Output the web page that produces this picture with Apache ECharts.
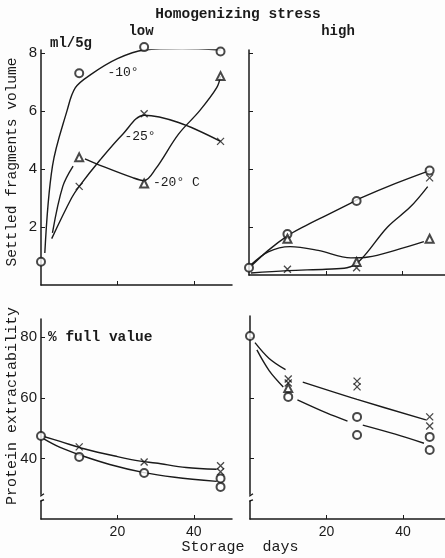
<!DOCTYPE html>
<html>
<head>
<meta charset="utf-8">
<script src="https://cdn.jsdelivr.net/npm/echarts@6/dist/echarts.min.js"></script>
<style>
  html, body { margin: 0; padding: 0; background: #fdfdfd; }
  #chart { width: 445px; height: 558px; }
</style>
</head>
<body>
<div id="chart"></div>
<script>
// storage days of the sampled points
const lowDays = [0, 10, 27, 47];
const highDays = [0, 10, 28, 47];

// settled fragments volume (ml/5g), low homogenizing stress
const lowVolM10 = [0.8, 7.3, 8.2, 8.05];
const lowVolM25 = [3.4, 5.9, 4.95];
const lowVolM20 = [4.4, 3.5, 7.2];
// fitted curves as [day, value]
const lowCurveM10 = [[1, 1.1], [3, 4.1], [6.8, 6.0], [9, 6.8], [13, 7.25], [20, 7.8], [27, 8.1], [37, 8.15], [47, 8.1]];
const lowCurveM25 = [[2.8, 1.6], [8, 3.0], [10, 3.4], [15.4, 4.3], [21.4, 5.2], [27, 5.85], [36, 5.6], [47, 4.95]];
const lowCurveM20 = [[3, 1.8], [5.7, 3.4], [8.4, 4.1], [null, null], [11.5, 4.35], [16, 4.1], [24, 3.7], [27, 3.6], [30, 4.0], [36, 5.2], [41.5, 6.0], [46, 6.8], [47, 7.2]];

// settled fragments volume, high homogenizing stress
const highVolO = [0.6, 1.76, 2.9, 3.95];
const highVolX = [0.55, 0.6, 3.7];
const highVolT = [1.6, 0.8, 1.6];
const highCurveO = [[0.5, 0.65], [5, 1.2], [10, 1.7], [14, 2.0], [20, 2.4], [26.5, 2.83], [29, 3.0], [38, 3.5], [47, 3.95]];
const highCurveT = [[0.5, 0.7], [5, 1.15], [10.7, 1.33], [18, 1.2], [26.5, 0.94], [31, 0.97], [38, 1.2], [45.5, 1.5]];
const highCurveX = [[0.5, 0.42], [10, 0.5], [20, 0.55], [25.5, 0.6], [29, 0.87], [36, 2.0], [42, 2.7], [46.5, 3.4]];

// protein extractability (% full value), low stress
const lowProtDays = [0, 10, 10, 27, 27, 47, 47, 47, 47];
const lowProtX = [[10, 43.8], [27, 38.8], [47, 37.6], [47, 35.6]];
const lowProtO = [[0, 47.4], [10, 40.5], [27, 35.2], [47, 33.4], [47, 30.6]];
const lowProtUpper = [[0.5, 47.3], [5, 45.6], [11.5, 43.1], [20, 40.6], [26, 39.1], [30, 38.5], [38, 37.0], [46, 36.4]];
const lowProtLower = [[0.5, 46.6], [5, 43.6], [10, 41.2], [18, 38.0], [27, 35.3], [35, 33.8], [46, 32.4]];

// protein extractability, high stress
const highProtX = [[10, 66.2], [10, 64.9], [28, 65.5], [28, 63.6], [47, 53.7], [47, 50.7]];
const highProtT = [[10, 63.2]];
const highProtO = [[0, 80.4], [10, 60.3], [28, 53.7], [28, 47.7], [47, 47.1], [47, 42.8]];
const highProtUpper = [[1.3, 78.2], [5, 73], [9.3, 69.3], [null, null], [13.8, 65.2], [28, 59.5], [46, 52.7]];
const highProtLower = [[1.8, 75.8], [5, 69], [8.7, 63.6], [null, null], [12.4, 59.3], [20, 55], [25.5, 52.3], [null, null], [29.5, 51], [38, 48], [45.5, 45]];

// tick labels
const volTicks = [2, 4, 6, 8];
const protTicks = [40, 60, 80];
const dayTicks = [20, 40];

const ink = '#1a1a1a';
const mono = 'Liberation Mono';
const sans = 'Liberation Sans';
const crossPath = 'path://M0,0L10,10M10,0L0,10';

const chart = echarts.init(document.getElementById('chart'));

function xAxis(gridIndex, max, showLabels) {
  return {
    type: 'value', gridIndex: gridIndex, min: 0, max: max,
    axisLine: { show: true, lineStyle: { color: ink, width: 1.5 } },
    axisTick: { show: true, inside: true, length: 4, customValues: dayTicks, lineStyle: { color: ink } },
    axisLabel: { show: showLabels, customValues: dayTicks, color: ink, fontFamily: sans, fontSize: 14, margin: 6 },
    splitLine: { show: false },
  };
}

function yAxis(gridIndex, min, max, ticks, showLabels) {
  return {
    type: 'value', gridIndex: gridIndex, min: min, max: max,
    axisLine: { show: true, lineStyle: { color: ink, width: 1.5 } },
    axisTick: { show: true, inside: true, length: 4, customValues: ticks, lineStyle: { color: ink } },
    axisLabel: { show: showLabels, customValues: ticks, color: ink, fontFamily: sans, fontSize: 15, margin: 4 },
    splitLine: { show: false },
  };
}

function curve(idx, data) {
  return {
    type: 'line', xAxisIndex: idx, yAxisIndex: idx, data: data,
    smooth: 0.35, showSymbol: false, connectNulls: false, silent: true,
    lineStyle: { color: ink, width: 1.4 }, z: 2,
  };
}

function marks(idx, data, symbol) {
  const isCross = symbol === crossPath;
  return {
    type: 'scatter', xAxisIndex: idx, yAxisIndex: idx, data: data,
    symbol: symbol, symbolSize: isCross ? 7 : 8, clip: false, z: 3,
    itemStyle: isCross
      ? { color: 'rgba(0,0,0,0)', borderColor: ink, borderWidth: 1.3 }
      : { color: ink, borderColor: ink, borderWidth: 1.3 },
  };
}

function pairs(days, values) {
  return values.map((v, i) => [days[days.length - values.length + i], v]);
}

chart.setOption({
  backgroundColor: '#fdfdfd',
  animation: false,
  grid: [
    { left: 41, top: 50, width: 191, height: 235 },
    { left: 249, top: 50, width: 196, height: 225 },
    { left: 41, top: 319, width: 191, height: 200 },
    { left: 250, top: 316, width: 195, height: 203 },
  ],
  xAxis: [
    xAxis(0, 50, false),
    xAxis(1, 51, false),
    xAxis(2, 50, true),
    xAxis(3, 51, true),
  ],
  yAxis: [
    yAxis(0, 0, 8.1, volTicks, true),
    yAxis(1, 0.35, 8.11, volTicks, false),
    yAxis(2, 20, 86, protTicks, true),
    yAxis(3, 20, 87, protTicks, false),
  ],
  series: [
    curve(0, lowCurveM10), curve(0, lowCurveM25), curve(0, lowCurveM20),
    marks(0, pairs(lowDays, lowVolM10), 'emptyCircle'),
    marks(0, pairs(lowDays, lowVolM25), crossPath),
    marks(0, pairs(lowDays, lowVolM20), 'emptyTriangle'),

    curve(1, highCurveO), curve(1, highCurveT), curve(1, highCurveX),
    marks(1, pairs(highDays, highVolO), 'emptyCircle'),
    marks(1, pairs(highDays, highVolX), crossPath),
    marks(1, pairs(highDays, highVolT), 'emptyTriangle'),

    curve(2, lowProtUpper), curve(2, lowProtLower),
    marks(2, lowProtX, crossPath),
    marks(2, lowProtO, 'emptyCircle'),

    curve(3, highProtUpper), curve(3, highProtLower),
    marks(3, highProtX, crossPath),
    marks(3, highProtT, 'emptyTriangle'),
    marks(3, highProtO, 'emptyCircle'),
  ],
});

function text(str, x, y, opts) {
  return Object.assign({
    type: 'text', x: x, y: y, silent: true,
    style: Object.assign({
      text: str, fill: ink, fontFamily: mono, fontSize: 14,
      align: 'center', verticalAlign: 'middle',
    }, (opts && opts.style) || {}),
  }, opts && opts.rotation ? { rotation: opts.rotation } : {});
}

// little break marks on the protein axes
function axisBreak(gridIndex) {
  const p = chart.convertToPixel({ gridIndex: gridIndex }, [0, 27]);
  const x = p[0], y = p[1];
  return [
    { type: 'rect', shape: { x: x - 3, y: y - 3, width: 6, height: 6 }, style: { fill: '#fdfdfd' }, z: 10 },
    { type: 'polyline', shape: { points: [[x, y - 3], [x, y - 2], [x + 3, y - 4]] }, style: { stroke: ink, lineWidth: 1.4, fill: null }, z: 11 },
    { type: 'polyline', shape: { points: [[x + 3, y + 2], [x, y + 3], [x, y + 4]] }, style: { stroke: ink, lineWidth: 1.4, fill: null }, z: 11 },
  ];
}

const bold = { style: { fontWeight: 'bold' } };
chart.setOption({
  graphic: [
    text('Homogenizing stress', 238, 14, { style: { fontWeight: 'bold', fontSize: 14.5 } }),
    text('low', 141, 31, bold),
    text('high', 338, 31, bold),
    text('ml/5g', 71, 43, bold),
    text('Settled fragments volume', 12, 162, { rotation: Math.PI / 2, style: { fontSize: 14.5 } }),
    text('Protein extractability', 12, 406, { rotation: Math.PI / 2, style: { fontSize: 15 } }),
    text('% full value', 48, 337, { style: { align: 'left', fontWeight: 'bold', fontSize: 14.5 } }),
    text('-10°', 123, 73, { style: { fontSize: 13 } }),
    text('-25°', 140, 137, { style: { fontSize: 13 } }),
    text('-20° C', 153, 183, { style: { fontSize: 13, align: 'left' } }),
    text('Storage  days', 240, 547, { style: { fontSize: 15 } }),
  ].concat(axisBreak(2), axisBreak(3)),
});
</script>
</body>
</html>
